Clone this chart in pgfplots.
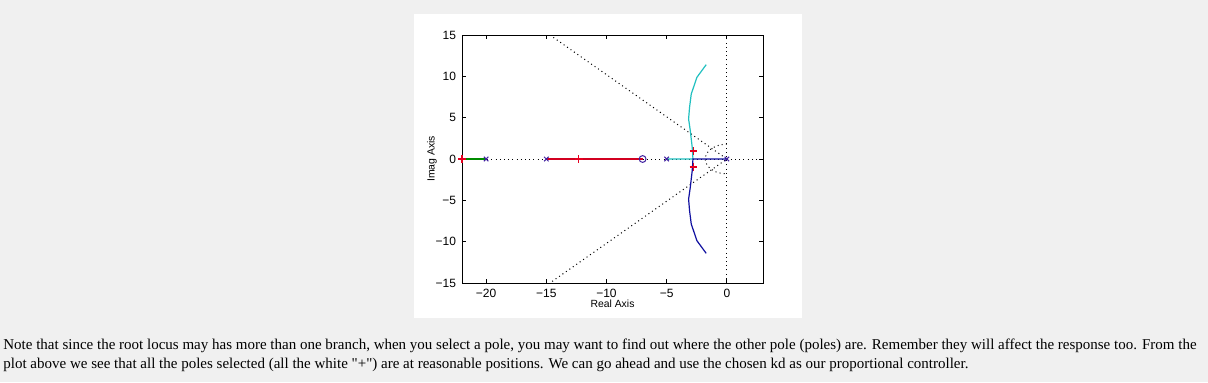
\documentclass[border=0pt]{standalone}
\usepackage{fontspec}
\setmainfont{Liberation Serif}[Ligatures=TeXOff]
\newfontfamily\arial{Liberation Sans}
\usepackage{pgfplots}
\pgfplotsset{compat=1.18}
\definecolor{bgc}{RGB}{240,240,240}
\definecolor{navy}{RGB}{16,16,160}
\definecolor{mk}{RGB}{64,32,160}
\definecolor{cy}{RGB}{32,192,192}
\definecolor{rl}{RGB}{210,0,32}
\definecolor{rm}{RGB}{230,0,32}
\definecolor{gr}{RGB}{0,140,0}
\begin{document}
\begin{tikzpicture}[x=1pt,y=1pt]
\fill[bgc] (0,0) rectangle (604,191);
\fill[white] (207,32) rectangle (401,184);
\begin{axis}[at={(231pt,49.5pt)}, anchor=south west, scale only axis,
  width=150.5pt, height=124pt,
  xmin=-22, xmax=3, ymin=-15, ymax=15,
  xtick={-20,-15,-10,-5,0}, xticklabels={\textminus20,\textminus15,\textminus10,\textminus5,0},
  ytick={-15,-10,-5,0,5,10,15}, yticklabels={\textminus15,\textminus10,\textminus5,0,5,10,15},
  tick align=inside, major tick length=2pt,
  axis line style={line width=0.5pt},
  every tick/.style={black, line width=0.4pt},
  ticklabel style={font=\arial\fontsize{6}{7}\selectfont},
  xticklabel style={yshift=0.3pt},
  yticklabel style={xshift=0.5pt},
  dotline/.style={black, line width=0.5pt, dash pattern=on 0.5pt off 1.6pt},
]
% grid-like dotted lines
\addplot[dotline] coordinates {(-22,0) (3,0)};
\addplot[dotline] coordinates {(0,-15) (0,15)};
\addplot[dotline] coordinates {(-14.7,15) (0,0) (-14.7,-15)};
\addplot[dotline] coordinates {(0,1.8) (-0.47,1.74) (-0.9,1.56) (-1.27,1.27) (-1.56,0.9) (-1.74,0.47) (-1.8,0) (-1.74,-0.47) (-1.56,-0.9) (-1.27,-1.27) (-0.9,-1.56) (-0.47,-1.74) (0,-1.8)};
% branches
\addplot[gr, line width=0.6pt] coordinates {(-22,0) (-20,0)};
\addplot[rl, line width=0.6pt] coordinates {(-15,0) (-7,0)};
\addplot[cy, line width=0.6pt] coordinates {(-5,0) (-2.82,0) (-2.84,0.6) (-2.88,1.41) (-3.04,3.43) (-3.18,4.84) (-3.10,6.25) (-2.96,7.86) (-2.49,9.88) (-1.72,11.41)};
\addplot[navy, line width=0.6pt] coordinates {(0,0) (-2.82,0) (-2.84,-0.6) (-2.88,-1.41) (-3.04,-3.43) (-3.18,-4.84) (-3.10,-6.25) (-2.96,-7.86) (-2.49,-9.88) (-1.72,-11.41)};
% poles and zero
\addplot[mk, only marks, mark=x, mark size=1.6pt, mark options={line width=0.5pt}] coordinates {(0,0) (-5,0) (-15,0) (-20,0)};
\addplot[mk, only marks, mark=o, mark size=1.7pt, mark options={line width=0.5pt}] coordinates {(-7,0)};
% selected poles
\addplot[rm, only marks, mark=+, mark size=1.9pt, mark options={line width=0.6pt}] coordinates {(-2.77,0.97) (-2.77,-0.97) (-12.3,0) (-22,0)};
\end{axis}
\node[font=\arial\fontsize{5.2}{6}\selectfont] at (306.25,39) {Real Axis};
\node[font=\arial\fontsize{5.2}{6}\selectfont, rotate=90] at (216,111.5) {Imag Axis};
\node[anchor=base west, inner sep=0pt, font=\fontsize{7.5}{9}\selectfont] at (1.5,16.5) {Note that since the root locus may has more than one branch, when you select a pole, you may want to find out where the other pole (poles) are. Remember they will affect the response too. From the};
\node[anchor=base west, inner sep=0pt, font=\fontsize{7.5}{9}\selectfont] at (1.5,7) {plot above we see that all the poles selected (all the white "+") are at reasonable positions. We can go ahead and use the chosen kd as our proportional controller.};
\end{tikzpicture}
\end{document}
